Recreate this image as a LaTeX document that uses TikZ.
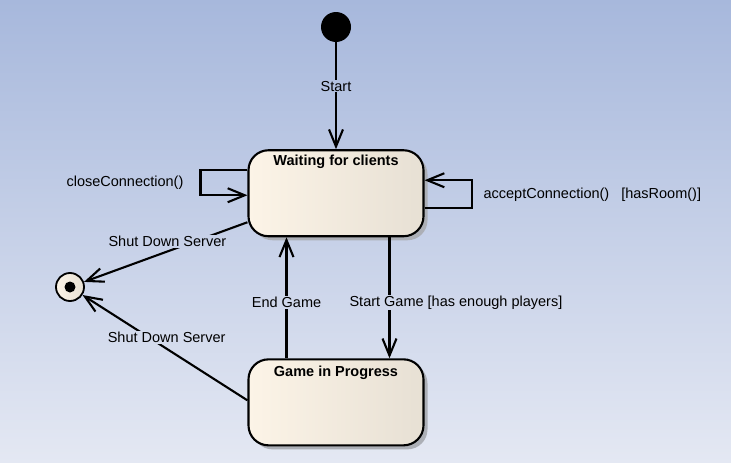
\documentclass[tikz,border=0pt]{standalone}
\usepackage{fontspec}
\setmainfont{Liberation Sans}
\usepackage{tikz}
\usetikzlibrary{positioning}
\usetikzlibrary{calc}
\usetikzlibrary{arrows.meta}
\usetikzlibrary{shadows}

\definecolor{bgtop}{RGB}{167,184,220}
\definecolor{bgbot}{RGB}{228,232,243}
\definecolor{stateleft}{RGB}{252,244,231}
\definecolor{stateright}{RGB}{231,224,212}
\definecolor{stateshadow}{RGB}{172,175,182}

\newcommand{\diagfont}{\fontsize{14.5pt}{17pt}\selectfont}

\tikzset{
	state/.style={rectangle, draw, rounded corners=20pt, line width=2.1pt, left color=stateleft, right color=stateright, minimum width=175pt, minimum height=86pt, drop shadow={shadow xshift=4pt, shadow yshift=-4pt, fill=stateshadow, opacity=1}},
	statename/.style={font=\diagfont\bfseries, inner sep=1pt},
	lbl/.style={inner sep=1pt},
	trans/.style={line width=2.1pt, -{Straight Barb[length=17pt, width=14pt, line width=2.1pt]}}
}

\begin{document}
\begin{tikzpicture}[x=1pt, y=-1pt, font=\diagfont]
				% background
				\fill[top color=bgtop, bottom color=bgbot] (0,0) rectangle (731,463);
				\useasboundingbox (0,0) rectangle (731,463);

				% nodes
				\node[circle, fill=black, minimum size=30pt, inner sep=0pt] (init) at (336,27) {};

				\node[state, below=107pt of init] (wait) {};
				\node[statename, below=5pt of wait.north] (waittitle) {Waiting for clients};

				\node[state, below=121pt of wait] (game) {};
				\node[statename, below=6pt of game.north] (gametitle) {Game in Progress};

				\node[circle, draw, line width=1.8pt, left color=stateleft, right color=stateright, minimum size=28pt, inner sep=0pt] (final) at (70,287) {};
				\node[circle, fill=black, minimum size=11pt, inner sep=0pt] (finaldot) at (final) {};

				% edges
				\draw[trans] (init) -- (wait)
					node[lbl, pos=0.41, fill=bgtop!81!bgbot] (startlbl) {Start};

				\draw[trans] ([yshift=23pt]wait.west) -- ++(-47pt,0) |- ([yshift=-2pt]wait.west)
					node[lbl, pos=0.25, left=15pt] (closelbl) {closeConnection()};
				\draw[trans] ([yshift=-15pt]wait.east) -- ++(47pt,0) |- ([yshift=13pt]wait.east)
					node[lbl, pos=0.25, right=10pt] (acceptlbl) {acceptConnection()\hspace{12pt}[hasRoom()]};

				\draw[trans] ([yshift=-29pt]wait.west) -- (final)
					node[lbl, pos=0.49, yshift=10pt, fill=bgtop!48!bgbot] (shutlbla) {Shut Down Server};
				\draw[trans] ([yshift=2pt]game.west) -- (final)
					node[lbl, pos=0.49, yshift=11pt, fill=bgtop!27!bgbot] (shutlblb) {Shut Down Server};

				\draw[trans] ([xshift=-49.5pt]game.north) -- ([xshift=-49.5pt]wait.south)
					node[lbl, pos=0.46, fill=bgtop!35!bgbot] (endlbl) {End Game};
				\draw[trans] ([xshift=53.5pt]wait.south) -- ([xshift=53.5pt]game.north)
					node[lbl, pos=0.54, anchor=west, xshift=-42pt, fill=bgtop!35!bgbot] (startgamelbl) {Start Game [has enough players]};
			\end{tikzpicture}
\end{document}
